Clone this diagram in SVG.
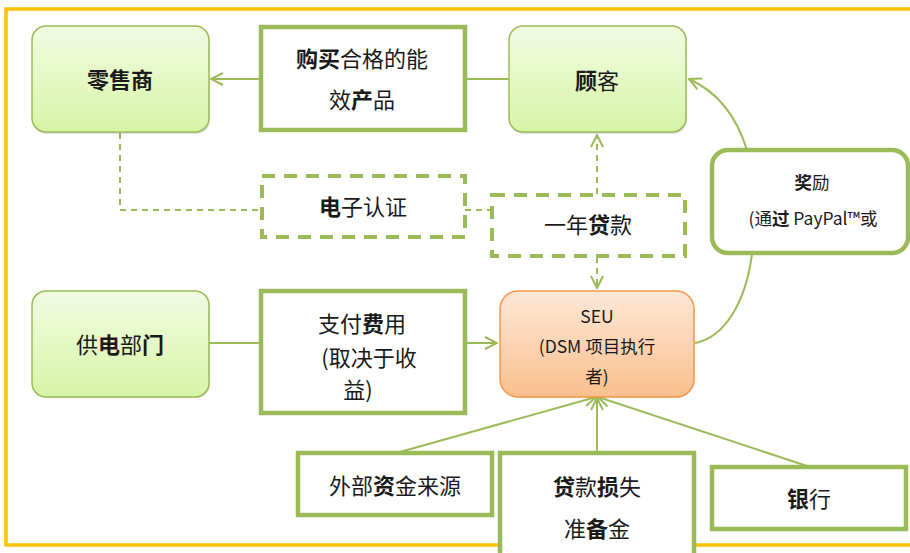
<svg xmlns="http://www.w3.org/2000/svg" width="910" height="553" viewBox="0 0 910 553">
<defs>
<linearGradient id="gGreen" x1="0" y1="0" x2="0" y2="1">
<stop offset="0" stop-color="#F2FBE3"/>
<stop offset="1" stop-color="#D6F5A6"/>
</linearGradient>
<linearGradient id="gOrange" x1="0" y1="0" x2="0" y2="1">
<stop offset="0" stop-color="#FDE8D8"/>
<stop offset="1" stop-color="#FABF8D"/>
</linearGradient>
<marker id="arr" viewBox="0 0 14 14" refX="13" refY="7" markerWidth="14" markerHeight="14" markerUnits="userSpaceOnUse" orient="auto">
<path d="M1,1 L13,7 L1,13" fill="none" stroke="#9BBB59" stroke-width="2"/>
</marker>
</defs>
<style>
text{font-family:"Noto Sans CJK SC","Noto Sans",sans-serif;fill:#1a1a1a;text-anchor:middle}
.t22{font-size:22px}
.t18{font-size:17.5px}
.b{font-weight:700}
.gnode{fill:url(#gGreen);stroke:#9BBB59;stroke-width:1.5}
.onode{fill:url(#gOrange);stroke:#F79646;stroke-width:1.5}
.shadow{fill:#000;opacity:0.12}
.box{fill:#fff;stroke:#9BBB59;stroke-width:4.5}
.dbox{fill:#fff;stroke:#9BBB59;stroke-width:4;stroke-dasharray:13 9}
.line{fill:none;stroke:#9BBB59;stroke-width:2}
.dline{fill:none;stroke:#9BBB59;stroke-width:2;stroke-dasharray:6 5}
</style>
<rect x="0" y="0" width="910" height="553" fill="#fff"/>
<rect id="frame" x="6" y="9" width="910" height="536" fill="none" stroke="#FFC000" stroke-width="3.5"/>

<g id="connectors">
<line class="line" x1="261" y1="79" x2="211" y2="79" marker-end="url(#arr)"/>
<line class="line" x1="509" y1="79" x2="465" y2="79"/>
<polyline class="dline" points="120,133 120,210 261,210"/>
<line class="dline" x1="465" y1="210" x2="492" y2="210"/>
<line class="dline" x1="597" y1="194" x2="597" y2="135" marker-end="url(#arr)"/>
<line class="dline" x1="597" y1="257" x2="597" y2="288" marker-end="url(#arr)"/>
<path class="line" d="M747,150 C737,118 718,92 689,79" marker-end="url(#arr)"/>
<path class="line" d="M695,343 C726,337 746,300 752,254"/>
<line class="line" x1="209" y1="343" x2="261" y2="343"/>
<line class="line" x1="465" y1="343" x2="497" y2="343" marker-end="url(#arr)"/>
<line class="line" x1="400" y1="452" x2="596" y2="397" marker-end="url(#arr)"/>
<line class="line" x1="597" y1="452" x2="597" y2="398" marker-end="url(#arr)"/>
<line class="line" x1="807" y1="466" x2="598" y2="397" marker-end="url(#arr)"/>
</g>

<g id="retailer">
<rect class="shadow" x="33" y="29" width="177" height="105" rx="14"/>
<rect class="gnode" x="32" y="26" width="177" height="106" rx="14"/>
<text class="t22 b" x="120" y="88">零售商</text>
</g>

<g id="buy">
<rect class="box" x="261" y="27" width="204" height="103"/>
<text class="t22" x="362" y="67"><tspan class="b">购买</tspan>合格的能</text>
<text class="t22" x="362" y="108">效<tspan class="b">产</tspan>品</text>
</g>

<g id="customer">
<rect class="shadow" x="510" y="29" width="177" height="105" rx="14"/>
<rect class="gnode" x="509" y="26" width="177" height="106" rx="14"/>
<text class="t22" x="597" y="89"><tspan class="b">顾</tspan>客</text>
</g>

<g id="ecert">
<rect class="dbox" x="262" y="176" width="203" height="61"/>
<text class="t22" x="363" y="215"><tspan class="b">电</tspan>子认证</text>
</g>

<g id="loan">
<rect class="dbox" x="492" y="195" width="193" height="61"/>
<text class="t22" x="588" y="233">一年<tspan class="b">贷</tspan>款</text>
</g>

<g id="reward">
<rect class="box" x="712" y="150" width="196" height="103" rx="16"/>
<text class="t18" x="812" y="189"><tspan class="b">奖</tspan>励</text>
<text class="t18" x="813" y="225">(通<tspan class="b">过</tspan> PayPal™或</text>
</g>

<g id="power">
<rect class="shadow" x="33" y="293" width="177" height="105" rx="14"/>
<rect class="gnode" x="32" y="291" width="177" height="106" rx="14"/>
<text class="t22" x="120" y="353">供<tspan class="b">电</tspan>部<tspan class="b">门</tspan></text>
</g>

<g id="pay">
<rect class="box" x="261" y="291" width="204" height="122"/>
<text class="t22" x="362" y="332">支付<tspan class="b">费</tspan>用</text>
<text class="t22" x="369" y="366">(取决于收</text>
<text class="t22" x="358" y="398">益)</text>
</g>

<g id="seu">
<rect class="shadow" x="501" y="293" width="194" height="105" rx="18"/>
<rect class="onode" x="500" y="291" width="194" height="106" rx="18"/>
<text class="t18" x="597" y="323">SEU</text>
<text class="t18" x="597" y="353">(DSM 项目执行</text>
<text class="t18" x="597" y="383">者)</text>
</g>

<g id="external">
<rect class="box" x="298" y="453" width="194" height="62"/>
<text class="t22" x="395" y="494">外部<tspan class="b">资</tspan>金来源</text>
</g>

<g id="reserve">
<rect class="box" x="500" y="453" width="194" height="110"/>
<text class="t22" x="597" y="495"><tspan class="b">贷</tspan>款<tspan class="b">损</tspan>失</text>
<text class="t22" x="597" y="537">准<tspan class="b">备</tspan>金</text>
</g>

<g id="bank">
<rect class="box" x="712" y="467" width="194" height="62"/>
<text class="t22" x="809" y="507"><tspan class="b">银</tspan>行</text>
</g>
</svg>
